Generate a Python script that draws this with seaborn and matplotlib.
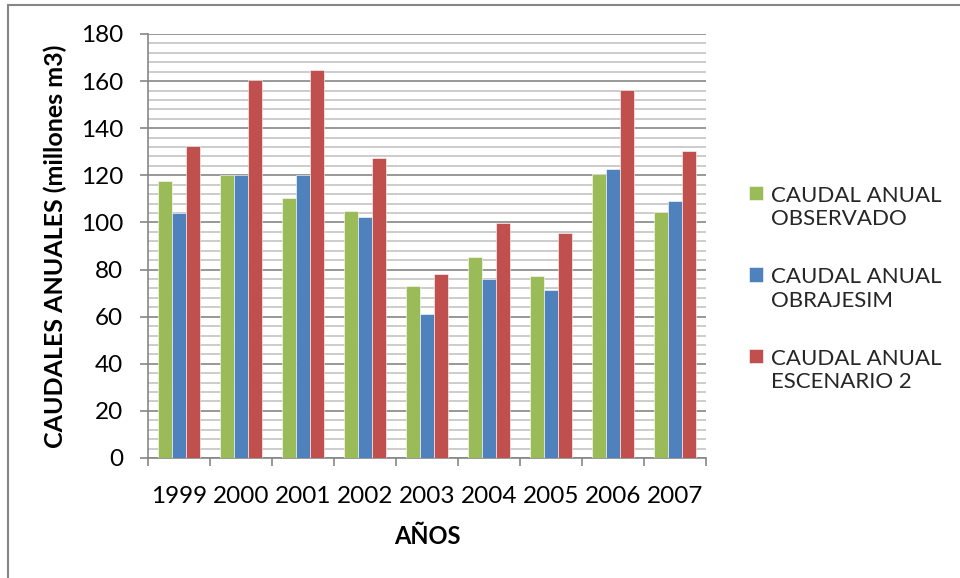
import pandas as pd
import matplotlib
matplotlib.use("Agg")
import matplotlib.pyplot as plt
import seaborn as sns
from matplotlib.patches import Rectangle
from matplotlib.ticker import MultipleLocator, FixedLocator

# ## Data
years = ['1999', '2000', '2001', '2002', '2003', '2004', '2005', '2006', '2007']
observado = [117.4, 120.1, 110.2, 104.8, 73.1, 85.2, 77.2, 120.5, 104.3]
obrajesim = [104.1, 120.0, 120.0, 102.2, 61.1, 76.1, 71.3, 122.7, 109.1]
escenario2 = [132.4, 160.3, 164.8, 127.3, 78.2, 99.9, 95.4, 156.2, 130.3]
series_names = ['CAUDAL ANUAL\nOBSERVADO', 'CAUDAL ANUAL\nOBRAJESIM', 'CAUDAL ANUAL\nESCENARIO 2']
colors = ['#9BBB59', '#4F81BD', '#C0504D']

df = pd.DataFrame({
    'year': years * 3,
    'caudal': observado + obrajesim + escenario2,
    'serie': [s for s in series_names for _ in years],
})

sns.set_theme(style='white')
plt.rcParams['font.family'] = ['Lato', 'DejaVu Sans']

fig = plt.figure(figsize=(9.6, 5.78), dpi=100)
ax = fig.add_axes([148 / 960, 1 - 458 / 578, (706 - 148) / 960, (458 - 34) / 578])

sns.barplot(data=df, x='year', y='caudal', hue='serie', palette=colors, saturation=1,
            width=0.68, gap=0, edgecolor='white', linewidth=0.4, ax=ax, zorder=3)

# ### Axes styling (Excel look)
ax.set_ylim(0, 180)
ax.set_xlim(-0.5, len(years) - 0.5)
ax.yaxis.set_major_locator(MultipleLocator(20))
ax.yaxis.set_minor_locator(MultipleLocator(4))
ax.xaxis.set_minor_locator(FixedLocator([i - 0.5 for i in range(len(years) + 1)]))
ax.grid(which='major', axis='y', color='#868686', lw=1.2, zorder=0)
ax.grid(which='minor', axis='y', color='#c4c4c4', lw=1.2, zorder=0)
ax.grid(which='major', axis='x', visible=False)
ax.set_axisbelow(True)

for side in ['top', 'right']:
    ax.spines[side].set_visible(False)
for side in ['left', 'bottom']:
    ax.spines[side].set_color('#868686')
    ax.spines[side].set_linewidth(1.2)

ax.tick_params(axis='y', which='major', direction='out', length=6, width=1.2,
               color='#868686', left=True, labelsize=17.5, pad=12)
ax.tick_params(axis='y', which='minor', length=0)
ax.tick_params(axis='x', which='major', length=0, labelsize=17.5, pad=20)
ax.tick_params(axis='x', which='minor', direction='out', length=6, width=1.2,
               color='#868686', bottom=True)
for lab in ax.get_xticklabels() + ax.get_yticklabels():
    lab.set_color('black')

ax.set_xlabel('AÑOS', fontsize=17, fontweight='bold', color='black', labelpad=13)
ax.set_ylabel('CAUDALES ANUALES (millones m3)', fontsize=18, fontweight='bold',
              color='black', labelpad=10)

handles, labels = ax.get_legend_handles_labels()
leg = ax.legend(handles, labels, loc='center left', bbox_to_anchor=(738 / 960, 1 - 289 / 578),
                bbox_transform=fig.transFigure, frameon=False, fontsize=16, borderpad=0,
                handlelength=0.64, handleheight=0.64, handletextpad=0.36, labelspacing=1.7)
for t in leg.get_texts():
    t.set_linespacing(1.23)
# square next to the first line of each label, like Excel
for col in leg._legend_handle_box.get_children():
    for item in col.get_children():
        item.align = 'top'

# outer chart frame
fig.patches.append(Rectangle((8 / 960, -0.1), 1.2, 1 - 5 / 578 + 0.1, transform=fig.transFigure,
                             fill=False, edgecolor='#868686', lw=1.5, zorder=0))

fig.savefig('out.png', dpi=100)
